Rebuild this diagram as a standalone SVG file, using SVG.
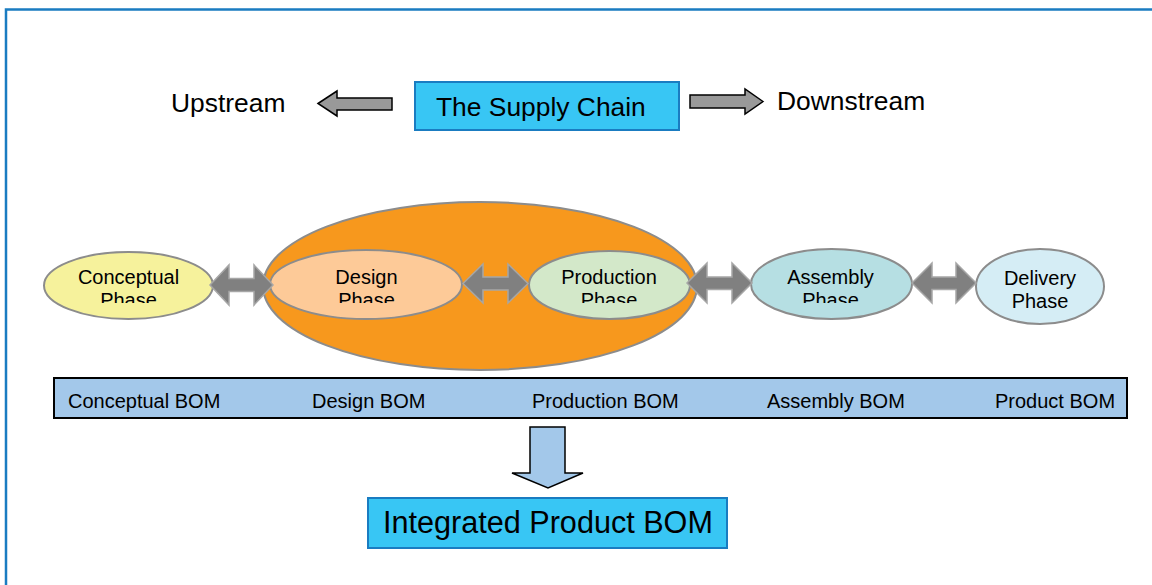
<svg xmlns="http://www.w3.org/2000/svg" width="1152" height="585" viewBox="0 0 1152 585">
<style>
.t{font-family:"Liberation Sans",Arial,sans-serif;fill:#000;}
.ph{font-size:20px;text-anchor:middle;}
.bom{font-size:20px;}
.ell{stroke:#8c8c8c;stroke-width:2;}
.dbl{fill:#808080;stroke:#a6a6a6;stroke-width:1.5;}
.blk{fill:#999999;stroke:#000;stroke-width:1.5;}
.box{fill:#38c6f4;stroke:#1a7cc1;stroke-width:2;}
</style>
<defs>
<clipPath id="cut"><rect x="0" y="0" width="1152" height="303"/></clipPath>
</defs>
<rect x="0" y="0" width="1152" height="585" fill="#fff"/>
<path d="M6,585 V9.5 H1152" fill="none" stroke="#1a7cc1" stroke-width="2.5"/>

<g id="upstream"><text class="t" x="171" y="112" font-size="26.4">Upstream</text></g>
<g id="supply-chain">
<rect class="box" x="415" y="82" width="264" height="48"/>
<text class="t" x="436" y="116" font-size="26.4">The Supply Chain</text>
</g>
<g id="downstream"><text class="t" x="777" y="110" font-size="26.4">Downstream</text></g>

<g id="manufacturing">
<ellipse cx="480" cy="286" rx="217" ry="84" fill="#f7981d" class="ell"/>
</g>
<g id="conceptual">
<ellipse class="ell" cx="128.5" cy="285.5" rx="84.5" ry="33.5" fill="#f6f29c"/>
<g clip-path="url(#cut)"><text class="t ph" x="128.5" y="284">Conceptual</text><text class="t ph" x="128.5" y="307">Phase</text></g>
</g>
<g id="design">
<ellipse class="ell" cx="366" cy="284.5" rx="96" ry="34.5" fill="#fdca98"/>
<g clip-path="url(#cut)"><text class="t ph" x="366.5" y="284">Design</text><text class="t ph" x="366.5" y="307">Phase</text></g>
</g>
<g id="production">
<ellipse class="ell" cx="609.5" cy="285" rx="80.5" ry="34" fill="#d3e8c9"/>
<g clip-path="url(#cut)"><text class="t ph" x="609" y="284">Production</text><text class="t ph" x="609" y="307">Phase</text></g>
</g>
<g id="assembly">
<ellipse class="ell" cx="831.5" cy="284" rx="80.5" ry="35" fill="#b6dfe3"/>
<g clip-path="url(#cut)"><text class="t ph" x="830.5" y="284">Assembly</text><text class="t ph" x="830.5" y="307">Phase</text></g>
</g>
<g id="delivery">
<ellipse class="ell" cx="1040" cy="286.5" rx="64" ry="37.5" fill="#d5edf5"/>
<text class="t ph" x="1040" y="285">Delivery</text><text class="t ph" x="1040" y="308">Phase</text>
</g>

<g id="bom-bar">
<rect x="54" y="378" width="1073" height="40" fill="#a3c8ea" stroke="#000" stroke-width="2"/>
<text class="t bom" x="68" y="408">Conceptual BOM</text>
<text class="t bom" x="312" y="408">Design BOM</text>
<text class="t bom" x="532" y="408">Production BOM</text>
<text class="t bom" x="767" y="408">Assembly BOM</text>
<text class="t bom" x="995" y="408">Product BOM</text>
</g>

<g id="integrated">
<rect class="box" x="368" y="498" width="359" height="50"/>
<text class="t" x="383" y="533" font-size="30.6">Integrated Product BOM</text>
</g>

<g id="connectors">
<path class="blk" d="M318,103.5 L337,91 L337,98 L392,98 L392,110 L337,110 L337,116 Z"/>
<path class="blk" d="M763,101.5 L745,89 L745,95 L690,95 L690,108 L745,108 L745,114 Z"/>
<path class="dbl" d="M210,285 L229,265 L229,278.5 L254,278.5 L254,265 L273,285 L254,305 L254,291.5 L229,291.5 L229,305 Z"/>
<path class="dbl" d="M463,283.5 L483,264 L483,277 L508,277 L508,264 L528,283.5 L508,303 L508,290 L483,290 L483,303 Z"/>
<path class="dbl" d="M687,283 L707,263 L707,277 L732,277 L732,263 L752,283 L732,303 L732,289.5 L707,289.5 L707,303 Z"/>
<path class="dbl" d="M912,283 L932,263 L932,277 L956,277 L956,263 L976,283 L956,303 L956,289.5 L932,289.5 L932,303 Z"/>
<path d="M530,427 L565,427 L565,473 L583,473 L548,488 L512,473 L530,473 Z" fill="#a3c8ea" stroke="#000" stroke-width="1.5"/>
</g>
</svg>
